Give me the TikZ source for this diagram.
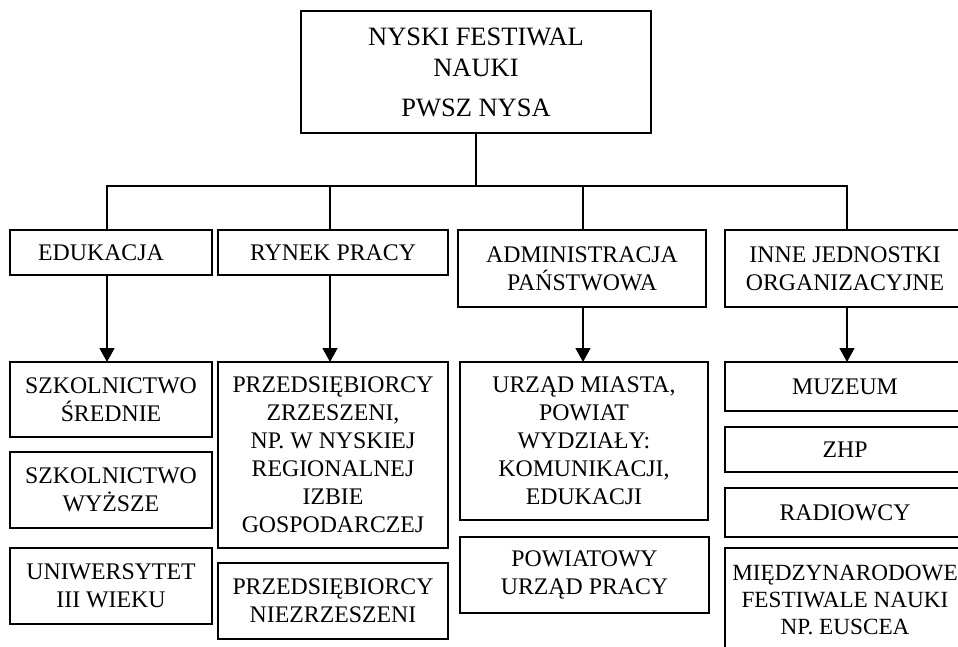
\documentclass[tikz,border=0pt]{standalone}
\usepackage{fontspec}
\setmainfont{Liberation Serif}
\usetikzlibrary{arrows.meta}
\begin{document}
\begin{tikzpicture}[x=1pt,y=-1pt, line width=1.5pt,
  box/.style={draw, rectangle, inner sep=0pt, outer sep=0pt, align=center,
    font=\fontsize{23.8}{28}\selectfont},
  arr/.style={-{Triangle[width=15pt,length=14pt]}}]
\useasboundingbox (0,0) rectangle (958,647);
\clip (0,0) rectangle (958,647);
% top
\node[box, minimum width=350pt, minimum height=122pt, font=\fontsize{26.5}{31}\selectfont] (top) at (476,72)
  {NYSKI FESTIWAL\\ NAUKI\\[9pt] PWSZ NYSA};
% level 2
\node[box, minimum width=202pt, minimum height=45pt] (edu) at (111,252.5) {EDUKACJA\hspace*{20pt}};
\node[box, minimum width=230pt, minimum height=45pt] (rynek) at (333,252.5) {RYNEK PRACY};
\node[box, minimum width=248pt, minimum height=77pt] (admin) at (582,268.5) {ADMINISTRACJA\\ PAŃSTWOWA};
\node[box, minimum width=240pt, minimum height=77pt] (inne) at (845,268.5) {INNE JEDNOSTKI\\ ORGANIZACYJNE};
% column 1
\node[box, minimum width=202pt, minimum height=75pt] (sred) at (111,399.5) {SZKOLNICTWO\\ ŚREDNIE};
\node[box, minimum width=202pt, minimum height=76pt] (wyz) at (111,490) {SZKOLNICTWO\\ WYŻSZE};
\node[box, minimum width=202pt, minimum height=76pt] (uni) at (111,586) {UNIWERSYTET\\ III WIEKU};
% column 2
\node[box, minimum width=230pt, minimum height=186pt] (zrz) at (333,455)
  {PRZEDSIĘBIORCY\\ ZRZESZENI,\\ NP. W NYSKIEJ\\ REGIONALNEJ\\ IZBIE\\ GOSPODARCZEJ};
\node[box, minimum width=230pt, minimum height=76pt] (niez) at (333,601) {PRZEDSIĘBIORCY\\ NIEZRZESZENI};
% column 3
\node[box, minimum width=248pt, minimum height=158pt] (urzad) at (584,441)
  {URZĄD MIASTA,\\ POWIAT\\ WYDZIAŁY:\\ KOMUNIKACJI,\\ EDUKACJI};
\node[box, minimum width=249pt, minimum height=76pt] (pup) at (584.5,575) {POWIATOWY\\ URZĄD PRACY};
% column 4
\node[box, minimum width=240pt, minimum height=49pt] (muz) at (845,386.5) {MUZEUM};
\node[box, minimum width=240pt, minimum height=45pt] (zhp) at (845,449.5) {ZHP};
\node[box, minimum width=240pt, minimum height=49pt] (radio) at (845,512.5) {RADIOWCY};
\node[box, minimum width=240pt, minimum height=104pt, font=\fontsize{23.2}{27}\selectfont] (miedzy) at (845,600)
  {MIĘDZYNARODOWE\\ FESTIWALE NAUKI\\ NP. EUSCEA};
% connectors
\draw (top.south) -- ++(0,53) coordinate (hub);
\draw ([xshift=-4pt]edu.north) |- (hub) -| ([xshift=2pt]inne.north);
\draw ([xshift=-3pt]rynek.north) -- ([xshift=-3pt]rynek.north |- hub);
\draw ([xshift=1pt]admin.north) -- ([xshift=1pt]admin.north |- hub);
\draw[arr] ([xshift=-4pt]edu.south) -- ([xshift=-4pt]edu.south |- sred.north);
\draw[arr] ([xshift=-3pt]rynek.south) -- ([xshift=-3pt]rynek.south |- zrz.north);
\draw[arr] ([xshift=1pt]admin.south) -- ([xshift=1pt]admin.south |- urzad.north);
\draw[arr] ([xshift=2pt]inne.south) -- ([xshift=2pt]inne.south |- muz.north);
\end{tikzpicture}
\end{document}
